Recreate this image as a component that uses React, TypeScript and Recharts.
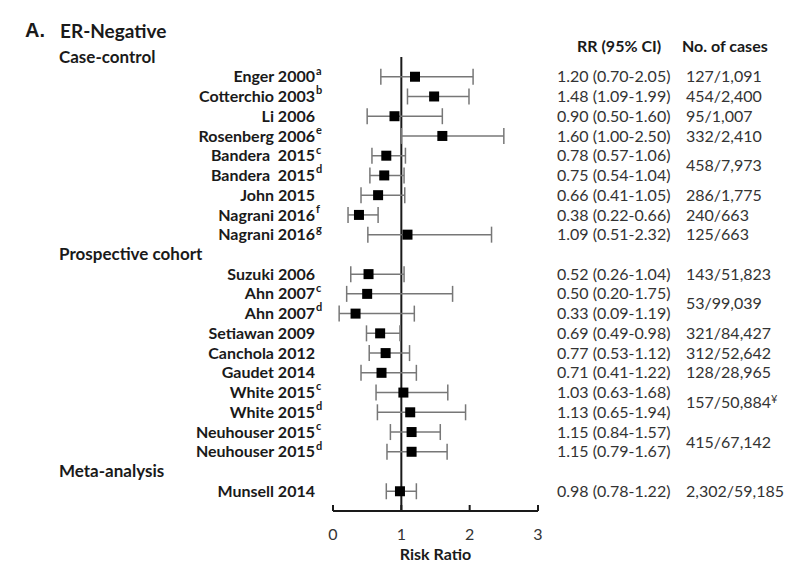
import { ScatterChart, Scatter, XAxis, YAxis, ErrorBar, ReferenceLine } from 'recharts';

// Forest plot: ER-negative breast cancer risk ratios by study

const STUDY_NAMES = [
  'Enger 2000', 'Cotterchio 2003', 'Li 2006', 'Rosenberg 2006', 'Bandera  2015', 'Bandera  2015',
  'John 2015', 'Nagrani 2016', 'Nagrani 2016',
  'Suzuki 2006', 'Ahn 2007', 'Ahn 2007', 'Setiawan 2009', 'Canchola 2012', 'Gaudet 2014',
  'White 2015', 'White 2015', 'Neuhouser 2015', 'Neuhouser 2015',
  'Munsell 2014',
];
const SUPERSCRIPTS = ['a', 'b', '', 'e', 'c', 'd', '', 'f', 'g', '', 'c', 'd', '', '', '', 'c', 'd', 'c', 'd', ''];
const RR = [1.2, 1.48, 0.9, 1.6, 0.78, 0.75, 0.66, 0.38, 1.09, 0.52, 0.5, 0.33, 0.69, 0.77, 0.71, 1.03, 1.13, 1.15, 1.15, 0.98];
const CI_LOW = [0.7, 1.09, 0.5, 1.0, 0.57, 0.54, 0.41, 0.22, 0.51, 0.26, 0.2, 0.09, 0.49, 0.53, 0.41, 0.63, 0.65, 0.84, 0.79, 0.78];
const CI_HIGH = [2.05, 1.99, 1.6, 2.5, 1.06, 1.04, 1.05, 0.66, 2.32, 1.04, 1.75, 1.19, 0.98, 1.12, 1.22, 1.68, 1.94, 1.57, 1.67, 1.22];
// row slot of each study (top to bottom)
const STUDY_ROWS = [0, 1, 2, 3, 4, 5, 6, 7, 8, 10, 11, 12, 13, 14, 15, 16, 17, 18, 19, 21];

const GROUPS = ['Case-control', 'Prospective cohort', 'Meta-analysis'];
const GROUP_ROWS = [-1, 9, 20];

const CASES = [
  '127/1,091', '454/2,400', '95/1,007', '332/2,410', '458/7,973', '286/1,775', '240/663', '125/663',
  '143/51,823', '53/99,039', '321/84,427', '312/52,642', '128/28,965', '157/50,884', '415/67,142',
  '2,302/59,185',
];
const CASE_MARKS = ['', '', '', '', '', '', '', '', '', '', '', '', '', '¥', '', ''];
const CASE_ROWS = [0, 1, 2, 3, 4.5, 6, 7, 8, 10, 11.5, 13, 14, 15, 16.5, 18.5, 21];

const X_TICKS = [0, 1, 2, 3];

const FONT = 'Lato, "Open Sans", sans-serif';
const INK = '#1a1a1a';

const data = RR.map((rr, i) => ({
  rr,
  row: STUDY_ROWS[i],
  err: [rr - CI_LOW[i], CI_HIGH[i] - rr],
}));

const rowTicks = Array.from(new Set([...GROUP_ROWS, ...STUDY_ROWS, ...CASE_ROWS])).sort((a, b) => a - b);

function RowTick({ y, payload }: any) {
  const v = payload.value;
  const si = STUDY_ROWS.indexOf(v);
  const gi = GROUP_ROWS.indexOf(v);
  const ci = CASE_ROWS.indexOf(v);
  return (
    <g fontFamily={FONT}>
      {si >= 0 && (
        <>
          <text x={315} y={y} dy="0.35em" textAnchor="end" fontSize={16} fontWeight={700} fill={INK} style={{ whiteSpace: 'pre' }}>
            {STUDY_NAMES[si]}
          </text>
          {SUPERSCRIPTS[si] && (
            <text x={316} y={y - 6} dy="0.35em" fontSize={11} fontWeight={700} fill={INK}>
              {SUPERSCRIPTS[si]}
            </text>
          )}
          <text x={557} y={y} dy="0.35em" fontSize={16} fill="#333">
            {`${RR[si].toFixed(2)} (${CI_LOW[si].toFixed(2)}-${CI_HIGH[si].toFixed(2)})`}
          </text>
        </>
      )}
      {gi >= 0 && (
        <text x={59} y={y} dy="0.35em" fontSize={17} fontWeight={700} fill={INK}>
          {GROUPS[gi]}
        </text>
      )}
      {ci >= 0 && (
        <text x={686} y={y} dy="0.35em" fontSize={16} fill="#333">
          {CASES[ci]}
          {CASE_MARKS[ci] && <tspan fontSize={11} dy="-0.5em">{CASE_MARKS[ci]}</tspan>}
        </text>
      )}
    </g>
  );
}

function RiskTick({ x, y, payload }: any) {
  return (
    <g fontFamily={FONT}>
      <line x1={x} x2={x} y1={y - 6} y2={y} stroke={INK} strokeWidth={2} />
      <text x={x} y={y + 29} textAnchor="middle" fontSize={16} fill="#333">
        {payload.value}
      </text>
    </g>
  );
}

const Square = (p: any) => <rect x={p.cx - 5} y={p.cy - 5} width={10} height={10} fill="#000" />;

export default function App() {
  return (
    <div style={{ position: 'absolute', left: 0, top: 0, width: 786, height: 563, background: '#fff', fontFamily: FONT }}>
      <div style={{ position: 'absolute', left: 25, top: 19, fontSize: 20, fontWeight: 700, fontFamily: '"Liberation Sans", Arial, sans-serif', color: INK }}>A.</div>
      <div style={{ position: 'absolute', left: 60, top: 19, fontSize: 19, fontWeight: 700, color: INK }}>ER-Negative</div>
      <div style={{ position: 'absolute', left: 577, top: 36, fontSize: 16, fontWeight: 700, color: INK }}>RR (95% CI)</div>
      <div style={{ position: 'absolute', left: 682, top: 36, fontSize: 16, fontWeight: 700, color: INK }}>No. of cases</div>
      <ScatterChart width={786} height={563} margin={{ top: 57, right: 248, bottom: 22, left: 0 }}>
        <XAxis
          type="number"
          dataKey="rr"
          domain={[0, 3]}
          ticks={X_TICKS}
          height={30}
          tickSize={0}
          tickMargin={0}
          tickLine={false}
          axisLine={{ stroke: INK, strokeWidth: 2 }}
          tick={<RiskTick />}
          label={{ value: 'Risk Ratio', position: 'bottom', offset: 8, fontSize: 16, fontWeight: 700, fill: INK, fontFamily: FONT }}
        />
        <YAxis
          type="number"
          dataKey="row"
          domain={[-1, 22]}
          reversed
          ticks={rowTicks}
          interval={0}
          width={333}
          axisLine={false}
          tickLine={false}
          tick={<RowTick />}
        />
        <ReferenceLine x={1} stroke={INK} strokeWidth={2} />
        <Scatter data={data} shape={Square} isAnimationActive={false}>
          <ErrorBar dataKey="err" direction="x" width={8} stroke="#777" strokeWidth={1.5} />
        </Scatter>
      </ScatterChart>
    </div>
  );
}
